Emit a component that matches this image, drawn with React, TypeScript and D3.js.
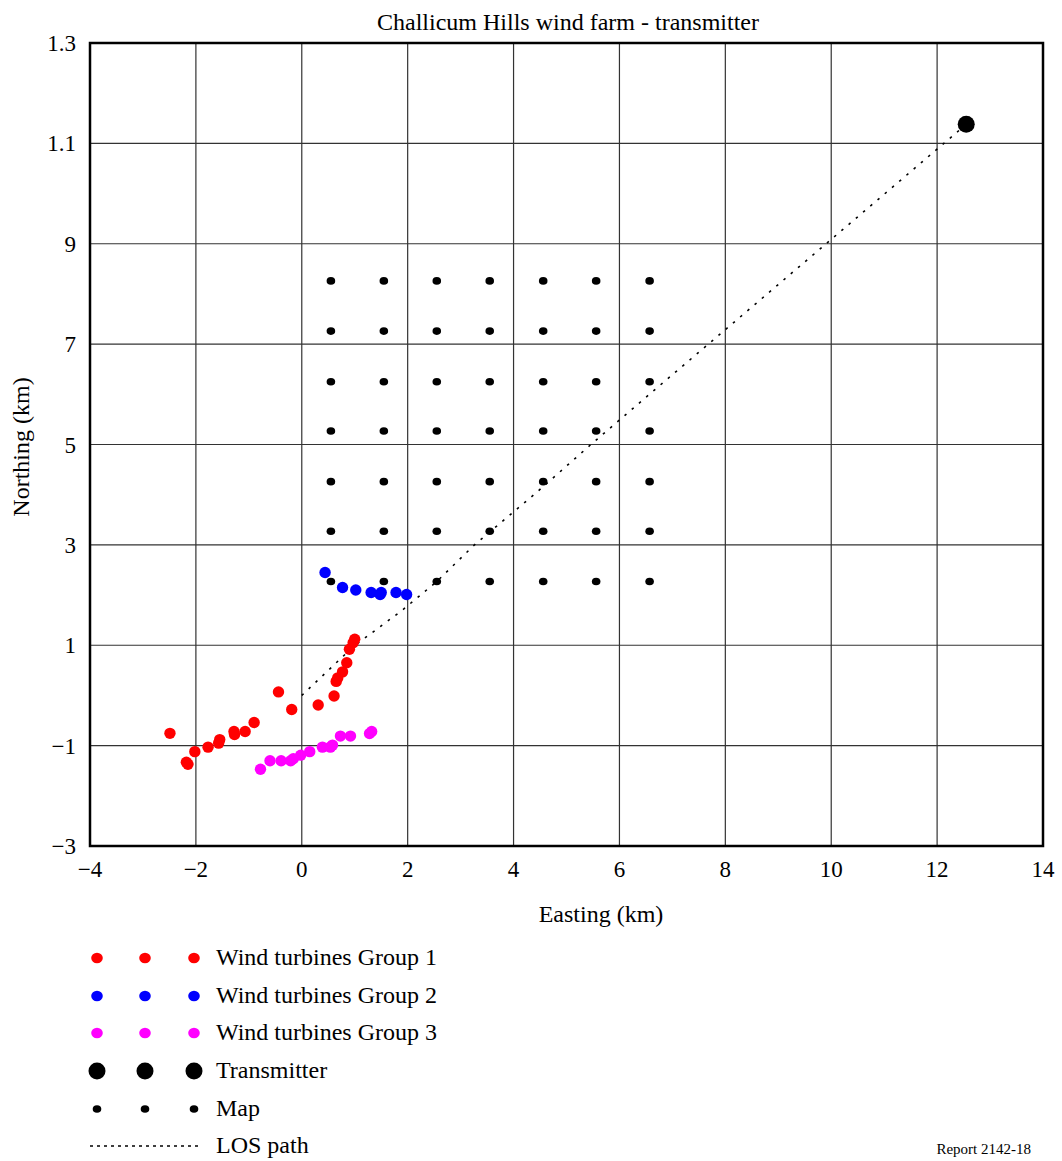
import React from "react";
import * as d3 from "d3";

const title = "Challicum Hills wind farm - transmitter";
const xTicks = [-4, -2, 0, 2, 4, 6, 8, 10, 12, 14];
const xTickLabels = ["\u22124", "\u22122", "0", "2", "4", "6", "8", "10", "12", "14"];
const yTicks = [13, 11, 9, 7, 5, 3, 1, -1, -3];
const yTickLabels = ["1.3", "1.1", "9", "7", "5", "3", "1", "\u22121", "\u22123"];

const group1: [number, number][] = [
  [-2.49, -0.755], [-2.18, -1.33], [-2.15, -1.37], [-2.02, -1.12], [-1.77, -1.03],
  [-1.57, -0.95], [-1.55, -0.88], [-1.28, -0.72], [-1.27, -0.78], [-1.07, -0.72],
  [-0.9, -0.54], [-0.44, 0.07], [-0.19, -0.28], [0.31, -0.19], [0.61, -0.01],
  [0.65, 0.28], [0.68, 0.35], [0.77, 0.47], [0.85, 0.65], [0.9, 0.92],
  [0.97, 1.05], [1.0, 1.12],
];
const group2: [number, number][] = [
  [0.44, 2.45], [0.77, 2.15], [1.02, 2.1], [1.31, 2.05], [1.48, 2.01], [1.5, 2.05],
  [1.78, 2.05], [1.98, 2.01],
];
const group3: [number, number][] = [
  [-0.78, -1.47], [-0.6, -1.3], [-0.39, -1.3], [-0.21, -1.3], [-0.16, -1.26],
  [-0.02, -1.19], [0.15, -1.12], [0.39, -1.03], [0.54, -1.03], [0.58, -0.99],
  [0.73, -0.81], [0.92, -0.81], [1.28, -0.76], [1.32, -0.72],
];
const transmitter: [number, number][] = [[12.55, 11.38]];
const mapX = [0.55, 1.55, 2.55, 3.55, 4.56, 5.56, 6.57];
const mapY = [2.27, 3.27, 4.26, 5.27, 6.25, 7.26, 8.26];
const losPath: [number, number][] = [
  [0, 0], [0.97, 0.97], [1.9, 1.7], [2.55, 2.27], [3.24, 2.98], [4.44, 4.05],
  [5.44, 4.98], [6.61, 6.04], [7.49, 6.83], [12.55, 11.38],
];
const legendLabels = [
  "Wind turbines Group 1", "Wind turbines Group 2", "Wind turbines Group 3",
  "Transmitter", "Map", "LOS path",
];

const W = 1062, H = 1161;
const left = 90, right = 1043, top = 43, bottom = 846;
const font = "'Liberation Serif', 'Times New Roman', serif";

export default function App() {
  const x = d3.scaleLinear().domain([-4, 14]).range([left, right]);
  const y = d3.scaleLinear().domain([-3, 13]).range([bottom, top]);
  const line = d3.line<[number, number]>().x(d => x(d[0])).y(d => y(d[1]));
  const mapPts: [number, number][] = [];
  mapY.forEach(yy => mapX.forEach(xx => mapPts.push([xx, yy])));

  const legendY = [958, 996, 1033, 1071, 1109, 1146];
  const legendX = [97, 145, 194];
  const R = 5.7;

  return (
    <svg width={W} height={H} style={{ position: "absolute", left: 0, top: 0, background: "#fff" }} fontFamily={font}>
      <rect x={0} y={0} width={W} height={H} fill="#fff" />
      <text x={568} y={30} textAnchor="middle" fontSize={24}>{title}</text>
      {xTicks.slice(1, -1).map(t => (
        <line key={"gx" + t} x1={x(t)} x2={x(t)} y1={top} y2={bottom} stroke="#333" strokeWidth={1.2} />
      ))}
      {yTicks.slice(1, -1).map(t => (
        <line key={"gy" + t} x1={left} x2={right} y1={y(t)} y2={y(t)} stroke="#333" strokeWidth={1.2} />
      ))}
      <rect x={left} y={top} width={right - left} height={bottom - top} fill="none" stroke="#000" strokeWidth={2.5} />
      {xTicks.map((t, i) => (
        <text key={"xl" + t} x={x(t)} y={877} textAnchor="middle" fontSize={23}>{xTickLabels[i]}</text>
      ))}
      {yTicks.map((t, i) => (
        <text key={"yl" + t} x={76} y={y(t) + 8} textAnchor="end" fontSize={23}>{yTickLabels[i]}</text>
      ))}
      <text x={601} y={922} textAnchor="middle" fontSize={24}>Easting (km)</text>
      <text transform={`translate(29, 447) rotate(-90)`} textAnchor="middle" fontSize={24}>Northing (km)</text>
      <path d={line(losPath) || ""} fill="none" stroke="#000" strokeWidth={1.6} strokeDasharray="2.5,7" />
      {mapPts.map((p, i) => (
        <ellipse key={"m" + i} cx={x(p[0])} cy={y(p[1])} rx={4.3} ry={3.8} fill="#000" />
      ))}
      {group2.map((p, i) => <circle key={"b" + i} cx={x(p[0])} cy={y(p[1])} r={R} fill="#0000ff" />)}
      {group1.map((p, i) => <circle key={"r" + i} cx={x(p[0])} cy={y(p[1])} r={R} fill="#ff0000" />)}
      {group3.map((p, i) => <circle key={"g" + i} cx={x(p[0])} cy={y(p[1])} r={R} fill="#ff00ff" />)}
      {transmitter.map((p, i) => <circle key={"t" + i} cx={x(p[0])} cy={y(p[1])} r={8.5} fill="#000" />)}
      {legendLabels.map((lab, i) => (
        <g key={"lg" + i}>
          {i < 3 && legendX.map(lx => (
            <ellipse key={lx} cx={lx} cy={legendY[i]} rx={5.8} ry={5.2} fill={["#ff0000", "#0000ff", "#ff00ff"][i]} />
          ))}
          {i === 3 && legendX.map(lx => <circle key={lx} cx={lx} cy={legendY[i]} r={8.5} fill="#000" />)}
          {i === 4 && legendX.map(lx => <ellipse key={lx} cx={lx} cy={legendY[i]} rx={4.3} ry={3.8} fill="#000" />)}
          {i === 5 && <line x1={90} x2={200} y1={legendY[i]} y2={legendY[i]} stroke="#000" strokeWidth={1.3} strokeDasharray="3,4" />}
          <text x={216} y={legendY[i] + 7} fontSize={24}>{lab}</text>
        </g>
      ))}
      <text x={1031} y={1154} textAnchor="end" fontSize={15}>Report 2142-18</text>
    </svg>
  );
}
